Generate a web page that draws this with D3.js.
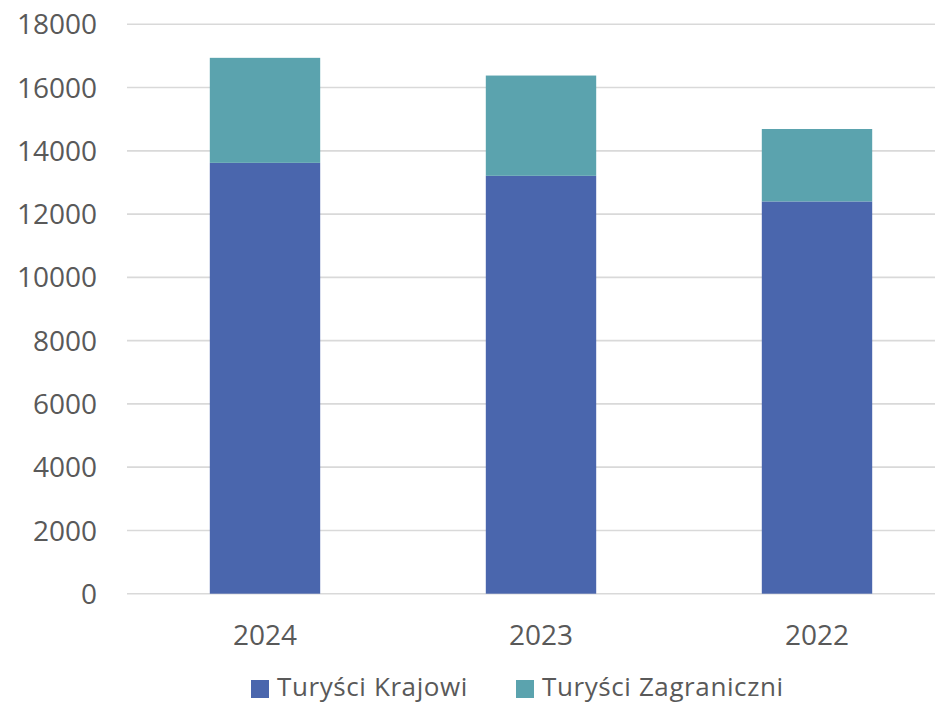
<!DOCTYPE html>
<html><head><meta charset="utf-8">
<script src="https://cdn.jsdelivr.net/npm/d3@7"></script>
<style>body{margin:0;background:#fff}svg{display:block}text{font-family:"Open Sans",sans-serif;fill:#595959}</style>
</head><body><svg id="c" width="935" height="703"></svg>
<script>
const categories = ["2024", "2023", "2022"];
const krajowi = [13620, 13210, 12400];
const zagraniczni = [3320, 3170, 2290];
const seriesNames = ["Turyści Krajowi", "Turyści Zagraniczni"];
const colors = ["#4a66ad", "#5ba3ae"];
const yTicks = [0, 2000, 4000, 6000, 8000, 10000, 12000, 14000, 16000, 18000];

const svg = d3.select("#c");
const plotL = 127, plotR = 955, plotT = 24.3, plotB = 593.7;
const x = d3.scaleBand().domain(categories).range([plotL, plotR]).paddingInner(0.6).paddingOuter(0.3);
const y = d3.scaleLinear().domain([0, 18000]).range([plotB, plotT]);

// gridlines
svg.append("g").selectAll("line").data(yTicks).join("line")
  .attr("x1", plotL).attr("x2", plotR)
  .attr("y1", d => y(d)).attr("y2", d => y(d))
  .attr("stroke", "#d9d9d9").attr("stroke-width", 1.6);

// y labels
svg.append("g").selectAll("text").data(yTicks).join("text")
  .attr("x", 97).attr("y", d => y(d)).attr("dy", "0.36em")
  .attr("text-anchor", "end").attr("font-size", 28).text(d => d);

// stacked bars
const rows = categories.map((c, i) => ({cat: c, k: krajowi[i], z: zagraniczni[i]}));
const stack = d3.stack().keys(["k", "z"])(rows);
svg.append("g").selectAll("g").data(stack).join("g")
  .attr("fill", (d, i) => colors[i])
  .selectAll("rect").data(d => d).join("rect")
  .attr("x", d => x(d.data.cat)).attr("width", x.bandwidth())
  .attr("y", d => y(d[1])).attr("height", d => y(d[0]) - y(d[1]));

// x labels
svg.append("g").selectAll("text").data(categories).join("text")
  .attr("x", d => x(d) + x.bandwidth() / 2).attr("y", 645)
  .attr("text-anchor", "middle").attr("font-size", 28).text(d => d);

// legend
const legX = [251, 516];
const lg = svg.append("g").selectAll("g").data(seriesNames).join("g")
  .attr("transform", (d, i) => `translate(${legX[i]},680)`);
lg.append("rect").attr("width", 18).attr("height", 18).attr("fill", (d, i) => colors[i]);
lg.append("text").attr("x", 26).attr("y", 15.5).attr("font-size", 26)
  .attr("letter-spacing", "0.6px").text(d => d);
</script></body></html>
